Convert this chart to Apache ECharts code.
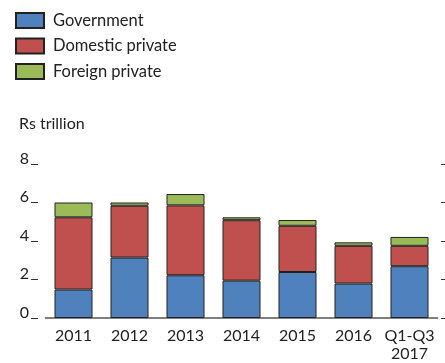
<!DOCTYPE html>
<html><head><meta charset="utf-8">
<script src="https://cdn.jsdelivr.net/npm/echarts@6/dist/echarts.min.js"></script>
<style>html,body{margin:0;padding:0;background:#fff}#c{width:445px;height:363px}</style>
</head><body><div id="c"></div>
<script>
const categories = ['2011','2012','2013','2014','2015','2016','Q1-Q3\n2017'];
const government = [1.48, 3.14, 2.22, 1.94, 2.39, 1.79, 2.69];
const domesticPrivate = [3.75, 2.69, 3.63, 3.14, 2.40, 1.96, 1.06];
const foreignPrivate = [0.77, 0.17, 0.59, 0.15, 0.30, 0.18, 0.46];
const yTicks = [0, 2, 4, 6, 8];
const unitLabel = 'Rs trillion';

const FONT = 'Lato';
const chart = echarts.init(document.getElementById('c'), null, {renderer:'canvas'});
const mk = (name, data, color) => ({
  name, type:'bar', stack:'s', data, barWidth:38,
  itemStyle:{color, borderColor:'#222', borderWidth:1}
});
chart.setOption({
  animation:false,
  textStyle:{fontFamily:FONT},
  title:{text:unitLabel, left:14, top:111, textStyle:{fontFamily:FONT, fontSize:16, fontWeight:'normal', color:'#222'}},
  legend:{orient:'vertical', left:15, top:12, padding:0, itemWidth:28, itemHeight:15, itemGap:8.5,
    icon:'rect', textStyle:{fontFamily:FONT, fontSize:16.5, lineHeight:15, color:'#222', padding:[0,0,0,4]}},
  grid:{left:45.5, right:7.5, top:164, bottom:42.3},
  xAxis:{type:'category', data:categories,
    axisLine:{lineStyle:{color:'#555', width:1.5}}, axisTick:{show:false},
    axisLabel:{interval:0, fontFamily:FONT, fontSize:16, color:'#222', margin:9, lineHeight:18}},
  yAxis:[{type:'value', min:yTicks[0], max:yTicks[yTicks.length-1], interval:2, position:'left', offset:7.5,
    splitLine:{show:false}, axisLine:{show:false},
    axisTick:{show:true, length:7, lineStyle:{color:'#333', width:1}},
    axisLabel:{fontFamily:FONT, fontSize:16, color:'#222', margin:9, verticalAlign:'bottom', lineHeight:11}},
   {type:'value', min:yTicks[0], max:yTicks[yTicks.length-1], interval:2, position:'right', offset:3.5,
    splitLine:{show:false}, axisLine:{show:false},
    axisTick:{show:true, length:4, inside:false, lineStyle:{color:'#333', width:1}},
    axisLabel:{show:false}}],
  series:[mk('Government', government, '#4f81bd'),
          mk('Domestic private', domesticPrivate, '#c0504d'),
          mk('Foreign private', foreignPrivate, '#9bbb59')]
});
</script></body></html>
